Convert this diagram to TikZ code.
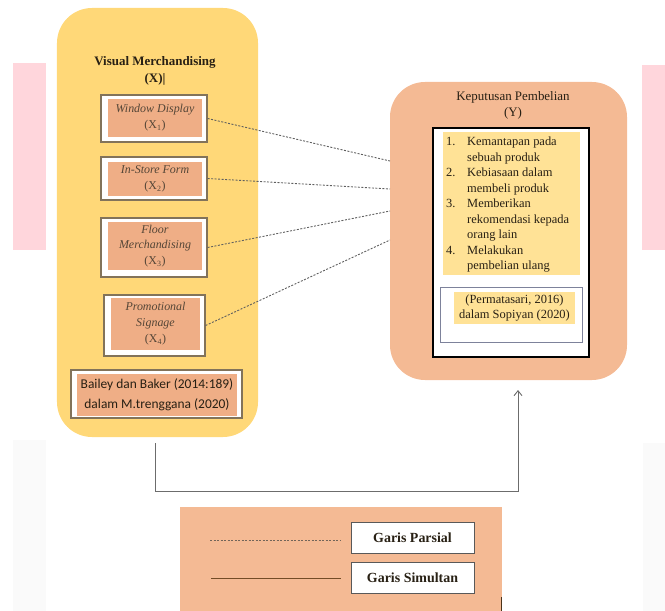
\documentclass[tikz,border=0pt]{standalone}
\usepackage{fontspec}
\setmainfont{Liberation Serif}
\newfontfamily\calib{Carlito}
\usetikzlibrary{arrows.meta,positioning,calc}
\definecolor{yel}{RGB}{255,216,120}
\definecolor{sal}{RGB}{244,186,148}
\definecolor{salin}{RGB}{239,174,134}
\definecolor{pinkbg}{RGB}{255,214,220}
\definecolor{faint}{RGB}{250,250,250}
\definecolor{bord}{RGB}{130,115,90}
\definecolor{txt}{RGB}{40,32,20}
\definecolor{itx}{RGB}{85,70,55}
\definecolor{dsh}{RGB}{95,95,95}
\definecolor{listy}{RGB}{255,226,150}
\definecolor{cbord}{RGB}{125,130,155}
\begin{document}
\begin{tikzpicture}[x=1bp,y=-1bp,
  outerbox/.style={draw=bord,line width=1.2bp,fill=white,minimum width=106bp},
  innerfill/.style={fill=salin,minimum width=94bp,inner sep=0pt,align=center,font=\fontsize{12}{16}\selectfont,text=itx},
  partial/.style={dsh,line width=0.9bp,dash pattern=on 2bp off 1.5bp},
  simul/.style={draw=gray!85!black,line width=0.9bp},
  legbox/.style={draw=gray!70!black,line width=1bp,fill=white,minimum width=123bp,minimum height=31bp,font=\bfseries\fontsize{14}{16}\selectfont,text=txt}
]
\useasboundingbox (0,0) rectangle (665,611);
% background decorations
\fill[pinkbg] (13,63) rectangle (46,250);
\fill[pinkbg] (642,65) rectangle (665,250);
\fill[faint] (13,440) rectangle (46,611);
\fill[faint] (643,443) rectangle (665,611);

% X box
\node[fill=yel,rounded corners=35bp,minimum width=201bp,minimum height=429bp] (X) at (157.5,222.5) {};
\node[font=\bfseries\fontsize{13}{17}\selectfont,text=txt,align=center] (Xt) at (155,71) {Visual Merchandising\\(X)|};

% X sub boxes
\node[outerbox,minimum height=47bp] (b1) at (154,118.5) {};
\node[innerfill,minimum height=38bp] (i1) at (155,118) {\textit{Window Display}\\(X\textsubscript{1})};
\node[outerbox,minimum height=43bp] (b2) at (154,178.5) {};
\node[innerfill,minimum height=33bp] (i2) at (155,179) {\textit{In-Store Form}\\(X\textsubscript{2})};
\node[outerbox,minimum height=59bp] (b3) at (154,247.5) {};
\node[innerfill,minimum height=48bp,font=\fontsize{12}{15.5}\selectfont] (i3) at (155,246) {\textit{Floor}\\\textit{Merchandising}\\(X\textsubscript{3})};
\node[outerbox,minimum width=101bp,minimum height=61bp] (b4) at (154.5,325.5) {};
\node[innerfill,minimum width=89bp,minimum height=52bp] (i4) at (155.5,324) {\textit{Promotional}\\\textit{Signage}\\(X\textsubscript{4})};

% reference box
\node[outerbox,minimum width=171bp,minimum height=48bp] (rb) at (156.5,394) {};
\node[fill=salin,minimum width=160bp,minimum height=42bp,inner sep=0pt,align=center,font=\calib\fontsize{13.5}{20}\selectfont,text=txt] (ri) at (157,394.5) {Bailey dan Baker (2014:189)\\dalam M.trenggana (2020)};

% Y box
\node[fill=sal,rounded corners=35bp,minimum width=237bp,minimum height=298bp] (Y) at (508.5,231) {};
\node[font=\fontsize{13}{16}\selectfont,text=txt,align=center] (Yt) at (513,105) {Keputusan Pembelian\\(Y)};
\node[draw=black,line width=1.2bp,fill=white,minimum width=156bp,minimum height=229bp] (yw) at (511,242.5) {};
\node[fill=listy,minimum width=137bp,minimum height=143bp,inner sep=0pt] (yl) at (511.5,203.5) {};
\node[anchor=north west,inner sep=0pt,font=\fontsize{12.5}{15.6}\selectfont,text=txt,align=left] (ylt) at (446,134.5) {%
\begin{tabular}{@{}p{21bp}@{}l@{}}
1. & Kemantapan pada\\
   & sebuah produk\\
2. & Kebiasaan dalam\\
   & membeli produk\\
3. & Memberikan\\
   & rekomendasi kepada\\
   & orang lain\\
4. & Melakukan\\
   & pembelian ulang
\end{tabular}};
\node[draw=cbord,line width=0.8bp,fill=white,minimum width=142bp,minimum height=55bp] (yc) at (511,314.5) {};
\node[fill=listy,minimum width=121bp,minimum height=32bp,inner sep=0pt,align=center,font=\fontsize{12.5}{15}\selectfont,text=txt] (yci) at (514.5,308) {(Permatasari, 2016)\\dalam Sopiyan (2020)};

% partial connectors
\coordinate (p1) at (390,161);
\coordinate (p2) at (390,189);
\coordinate (p3) at (390,211);
\coordinate (p4) at (390,240);
\draw[partial] (b1.east) -- (p1);
\draw[partial] (b2.east) -- (p2);
\draw[partial] (b3.east) -- (p3);
\draw[partial] (b4.east) -- (p4);

% simultaneous connector
\coordinate (s0) at (155,443);
\coordinate (s1) at (518,390);
\draw[simul,-{Straight Barb[length=5bp,width=8bp]}] (s0) |- (518,491) -- (s1);

% legend
\node[fill=sal,minimum width=322bp,minimum height=104bp,inner sep=0pt] (leg) at (341,559) {};
\coordinate (l1a) at (210,540);
\coordinate (l1b) at (341,540);
\coordinate (l2a) at (211,578);
\coordinate (l2b) at (341,578);
\draw[partial,dsh!80!brown] (l1a) -- (l1b);
\draw[line width=0.9bp,draw=brown!60!black] (l2a) -- (l2b);
\node[legbox] (g1) at (412.5,537.5) {Garis Parsial};
\node[legbox] (g2) at (412.5,577.5) {Garis Simultan};
\coordinate (m1) at (501,597);
\coordinate (m2) at (501,611);
\draw[line width=1bp,brown!40!black] (m1) -- (m2);
\end{tikzpicture}
\end{document}
